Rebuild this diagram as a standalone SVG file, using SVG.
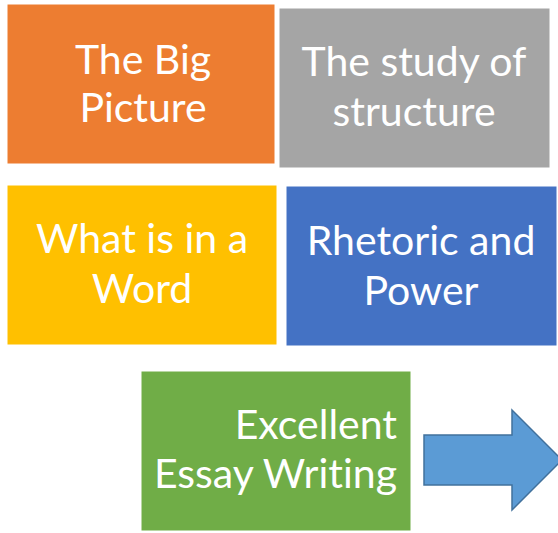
<svg xmlns="http://www.w3.org/2000/svg" width="558" height="533" viewBox="0 0 558 533">
<style>
.box{stroke:#ffffff;stroke-width:1}
.t{font-family:Lato,"Open Sans","Liberation Sans",sans-serif;font-size:41px;fill:#ffffff;text-anchor:middle;font-variant-ligatures:none}
.r{text-anchor:end}
</style>
<rect width="558" height="533" fill="#ffffff"/>
<g id="big-picture">
<rect class="box" x="7" y="4" width="268" height="160" fill="#ED7D31"/>
<text class="t" x="143" y="74">The Big</text>
<text class="t" x="143" y="122">Picture</text>
</g>
<g id="study-structure">
<rect class="box" x="279" y="8" width="271" height="160" fill="#A5A5A5"/>
<text class="t" x="414" y="76">The study of</text>
<text class="t" x="414" y="126">structure</text>
</g>
<g id="what-in-word">
<rect class="box" x="7" y="185" width="270" height="160" fill="#FFC000"/>
<text class="t" x="142" y="253">What is in a</text>
<text class="t" x="142" y="303">Word</text>
</g>
<g id="rhetoric-power">
<rect class="box" x="286" y="186" width="271" height="160" fill="#4472C4"/>
<text class="t" x="421" y="255">Rhetoric and</text>
<text class="t" x="421" y="305">Power</text>
</g>
<g id="essay-writing">
<rect class="box" x="141" y="371" width="270" height="160" fill="#70AD47"/>
<text class="t r" x="397" y="439">Excellent</text>
<text class="t r" x="397" y="488">Essay Writing</text>
</g>
<g id="connectors">
<path d="M424,435 H512 V410 L562,460 L512,510 V485 H424 Z" fill="#5B9BD5" stroke="#41719C" stroke-width="1.5"/>
</g>
</svg>
